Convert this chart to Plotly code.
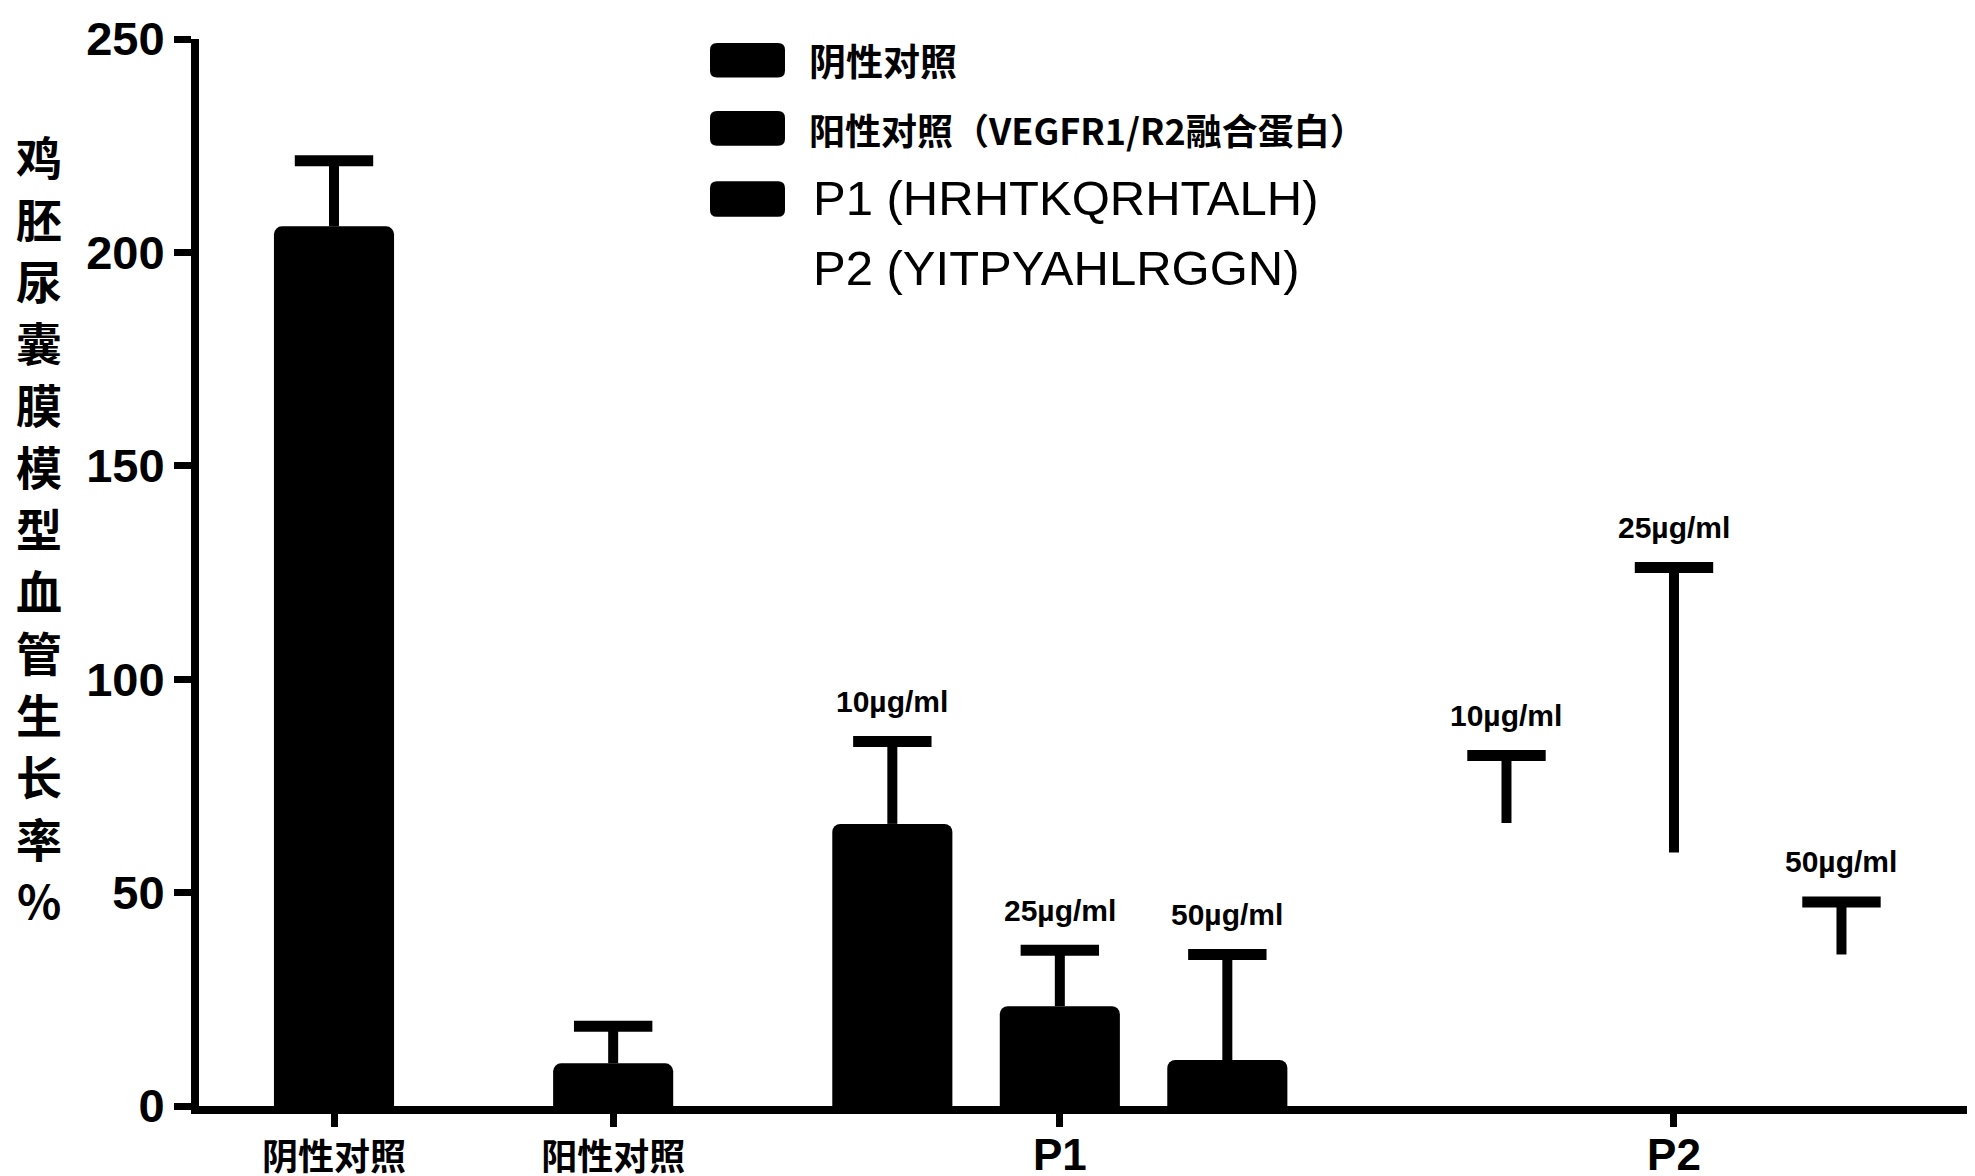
import plotly.graph_objects as go

# ---------------- data ----------------
neg_label = "阴性对照"
pos_label = "阳性对照（VEGFR1/R2融合蛋白）"
p1_label = "P1 (HRHTKQRHTALH)"
p2_label = "P2 (YITPYAHLRGGN)"

conc_labels = ["10µg/ml", "25µg/ml", "50µg/ml"]

neg_mean = [206.1]
neg_err = [15.4]
pos_mean = [10.0]
pos_err = [8.7]
p1_mean = [66.1, 23.4, 10.8]
p1_err = [19.3, 13.1, 24.7]
p2_mean = [66.3, 59.4, 35.5]
p2_err = [15.8, 66.8, 12.3]

x_tick_text = ["阴性对照", "阳性对照", "P1", "P2"]
y_ticks = [0, 50, 100, 150, 200, 250]
y_title = "鸡胚尿囊膜模型血管生长率%"

# ---------------- layout helpers ----------------
W, H = 1975, 1176
L, R, T, B = 191, 4, 24, 72
PW, PH = W - L - R, H - T - B
BOT = H - B

def fx(p):
    return (p - L) / PW

def fy(p):
    return (BOT - p) / PH

# bar centre positions on the numeric x axis
neg_x = [0.0]
pos_x = [5 / 3]
p1_x = [10 / 3, 13 / 3, 16 / 3]
p2_x = [7.0, 8.0, 9.0]
tick_x = [neg_x[0], pos_x[0], p1_x[1], p2_x[1]]
bar_w = 0.717

series = [
    (neg_label, neg_x, neg_mean, neg_err, "black"),
    (pos_label, pos_x, pos_mean, pos_err, "black"),
    (p1_label, p1_x, p1_mean, p1_err, "black"),
    (p2_label, p2_x, p2_mean, p2_err, "white"),
]

fig = go.Figure()
for name, xs, ms, es, col in series:
    fig.add_trace(go.Bar(x=xs, y=ms, width=bar_w, name=name,
                         marker=dict(color=col, line=dict(width=0))))
# upper-only error bars (stem + cap), drawn from the mean and error arrays
for name, xs, ms, es, col in series:
    tops = [m + e for m, e in zip(ms, es)]
    fig.add_trace(go.Scatter(x=xs, y=tops, mode="markers", name=name, showlegend=False,
                             marker=dict(symbol="line-ew", size=56, color="black",
                                         line=dict(color="black", width=11)),
                             error_y=dict(type="data", symmetric=False, array=[0] * len(es),
                                          arrayminus=es, thickness=10, width=0, color="black"),
                             cliponaxis=False))

annotations = []
# concentration labels above error bars
for xs, ms, es in [(p1_x, p1_mean, p1_err), (p2_x, p2_mean, p2_err)]:
    for xv, mv, ev, lab in zip(xs, ms, es, conc_labels):
        annotations.append(dict(x=xv, y=mv + ev, xref="x", yref="y", text=lab,
                                showarrow=False, yshift=40, xanchor="center", yanchor="middle",
                                font=dict(family="Liberation Sans, Arial",
                                          size=30, color="black", weight="bold")))

# y-axis title: stacked upright characters
for i, ch in enumerate(y_title):
    annotations.append(dict(x=fx(31), y=fy(141 + i * 62.75), xref="paper", yref="paper",
                            text=ch, showarrow=False, xanchor="center", yanchor="middle",
                            font=dict(family="Noto Sans CJK SC", size=46, color="black", weight="bold")))

# manual legend
shapes = []
def rrect(x0, y0, x1, y1, r):
    pts = [("M", x0 + r, y0), ("L", x1 - r, y0), ("Q", x1, y0, x1, y0 + r), ("L", x1, y1 - r),
           ("Q", x1, y1, x1 - r, y1), ("L", x0 + r, y1), ("Q", x0, y1, x0, y1 - r),
           ("L", x0, y0 + r), ("Q", x0, y0, x0 + r, y0)]
    s = ""
    for p in pts:
        coords = p[1:]
        parts = []
        for i in range(0, len(coords), 2):
            parts.append(f"{fx(coords[i]):.5f},{fy(coords[i + 1]):.5f}")
        s += p[0] + " ".join(parts) + " "
    return s + "Z"

for (y0, y1) in [(28, 63), (97, 132), (168, 204)]:
    shapes.append(dict(type="path", xref="paper", yref="paper", path=rrect(702, y0, 777, y1, 7),
                       fillcolor="black", line=dict(width=0)))

leg_cjk1 = dict(family="Noto Sans CJK SC", size=37, color="black", weight="bold")
leg_cjk2 = dict(family="Noto Sans CJK SC", size=36, color="black", weight="bold")
leg_lat = dict(family="Liberation Sans, Arial", size=49, color="black")
for text, yc, xl, f in [(neg_label, 45, 799, leg_cjk1), (pos_label, 115, 799, leg_cjk2),
                        (p1_label, 185, 803, leg_lat), (p2_label, 256, 803, leg_lat)]:
    annotations.append(dict(x=fx(xl), y=fy(yc), xref="paper", yref="paper", text=text,
                            showarrow=False, xanchor="left", yanchor="middle", font=f))

tick_text_html = [
    f"<span style='font-family:Noto Sans CJK SC;font-size:36px'>{t}</span>" if not t.startswith("P") else t
    for t in x_tick_text
]

fig.update_layout(
    width=W, height=H,
    margin=dict(l=L, r=R, t=T, b=B, pad=0),
    plot_bgcolor="white", paper_bgcolor="white",
    barmode="overlay", barcornerradius=8,
    showlegend=False,
    xaxis=dict(range=[-0.806, 9.821], tickmode="array", tickvals=tick_x, ticktext=tick_text_html,
               showgrid=False, zeroline=False, showline=True, linecolor="black", linewidth=8,
               ticks="outside", ticklen=13, tickwidth=7, tickcolor="black",
               ticklabeloverflow="allow", ticklabelstandoff=-10,
               tickfont=dict(family="Liberation Sans, Arial", size=44, color="black", weight="bold")),
    yaxis=dict(range=[0, 250], tickmode="array", tickvals=y_ticks,
               showgrid=False, zeroline=False, showline=True, linecolor="black", linewidth=8,
               ticks="outside", ticklen=17, tickwidth=7, tickcolor="black",
               ticklabeloverflow="allow",
               tickfont=dict(family="Liberation Sans, Arial", size=47, color="black", weight="bold")),
    annotations=annotations,
    shapes=shapes,
)

fig.write_html("out.html")
